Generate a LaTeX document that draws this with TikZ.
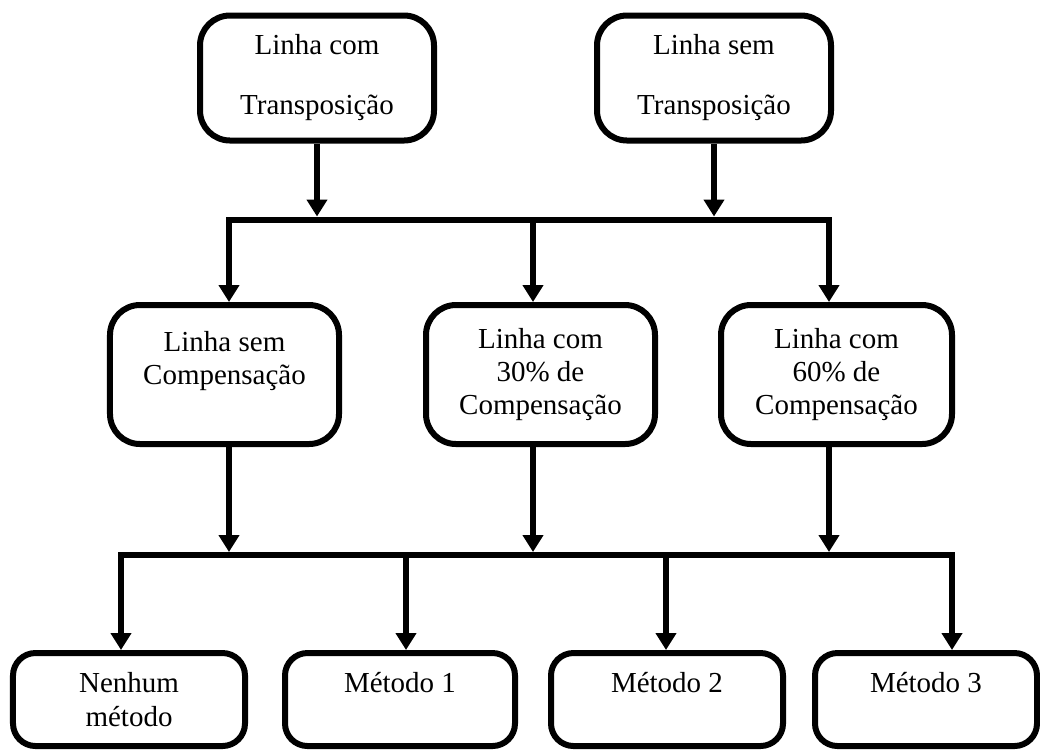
\documentclass[tikz,border=0pt]{standalone}
\usepackage{fontspec}
\setmainfont{Liberation Serif}
\usetikzlibrary{arrows.meta}

\begin{document}
\begin{tikzpicture}
	[x=0.4pt, y=-0.4pt, line width=2.4pt,
	 block/.style={draw, rounded corners=12pt, align=center, inner sep=0pt,
	   font=\fontsize{11.6pt}{13.2pt}\selectfont},
	 arr/.style={-{Triangle[width=8pt,length=6.8pt]}}]
	\useasboundingbox (0,0) rectangle (1040,749);
	% linhas
	\node[block, minimum width=93.6pt, minimum height=50pt,
	  font=\fontsize{11.6pt}{24pt}\selectfont] (t1) at (317,78) {Linha com\\Transposição};
	\node[block, minimum width=93.6pt, minimum height=50pt,
	  font=\fontsize{11.6pt}{24pt}\selectfont] (t2) at (714,78) {Linha sem\\Transposição};
	% compensacao
	\node[block, minimum width=91.6pt, minimum height=55.6pt] (m1) at (224.5,374.5) {Linha sem\\Compensação\\~};
	\node[block, minimum width=91.6pt, minimum height=55.6pt] (m2) at (540.5,374.5) {Linha com\\30\% de\\Compensação};
	\node[block, minimum width=92.4pt, minimum height=55.6pt] (m3) at (836.5,374.5) {Linha com\\60\% de\\Compensação};
	% metodos
	\begin{scope}[block/.append style={rounded corners=9pt, minimum height=37.2pt,
	    font=\fontsize{11.6pt}{13.6pt}\selectfont}]
		\node[block, minimum width=92.8pt] (b1) at (129,699.5) {Nenhum\\método};
		\node[block, minimum width=92pt] (b2) at (400,699.5) {Método 1\\~};
		\node[block, minimum width=92.8pt] (b3) at (667,699.5) {Método 2\\~};
		\node[block, minimum width=88.8pt] (b4) at (926,699.5) {Método 3\\~};
	\end{scope}
	% barra superior
	\coordinate (ua) at (229,219.5);
	\coordinate (ub) at (533,219.5);
	\coordinate (uc) at (829,219.5);
	\draw[line cap=rect] (ua) -- (uc);
	\draw[arr, shorten >=1.2pt] (t1.south) -- (t1.south |- ua);
	\draw[arr, shorten >=1.2pt] (t2.south) -- (t2.south |- ua);
	\draw[arr] (ua) -- (ua |- m1.north);
	\draw[arr] (ub) -- (ub |- m2.north);
	\draw[arr] (uc) -- (uc |- m3.north);
	% barra inferior
	\coordinate (la) at (121,555);
	\coordinate (lb) at (406,555);
	\coordinate (lc) at (666,555);
	\coordinate (ld) at (952,555);
	\draw[line cap=rect] (la) -- (ld);
	\draw[arr, shorten >=1.2pt] (ua |- m1.south) -- (ua |- la);
	\draw[arr, shorten >=1.2pt] (ub |- m2.south) -- (ub |- la);
	\draw[arr, shorten >=1.2pt] (uc |- m3.south) -- (uc |- la);
	\draw[arr] (la) -- (la |- b1.north);
	\draw[arr] (lb) -- (lb |- b2.north);
	\draw[arr] (lc) -- (lc |- b3.north);
	\draw[arr] (ld) -- (ld |- b4.north);
\end{tikzpicture}
\end{document}
